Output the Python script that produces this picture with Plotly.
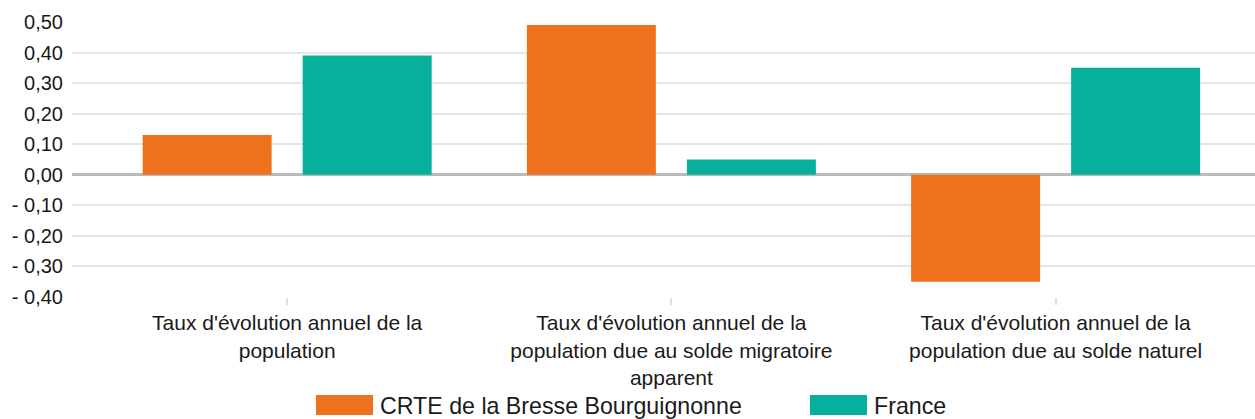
import plotly.graph_objects as go

categories = [
    "Taux d'évolution annuel de la<br>population",
    "Taux d'évolution annuel de la<br>population due au solde migratoire<br>apparent",
    "Taux d'évolution annuel de la<br>population due au solde naturel",
]
series_names = ["CRTE de la Bresse Bourguignonne", "France"]
crte_values = [0.13, 0.49, -0.35]
france_values = [0.39, 0.05, 0.35]
series_colors = ["#ee711d", "#06b09c"]

y_tickvals = [0.5, 0.4, 0.3, 0.2, 0.1, 0.0, -0.1, -0.2, -0.3, -0.4]
y_ticktext = ["0,50", "0,40", "0,30", "0,20", "0,10", "0,00", "- 0,10", "- 0,20", "- 0,30", "- 0,40"]

FONT = "Liberation Sans, Arial, sans-serif"

fig = go.Figure()
for name, vals, col in zip(series_names, [crte_values, france_values], series_colors):
    fig.add_trace(go.Bar(x=categories, y=vals, name=name, marker=dict(color=col, line=dict(width=0)),
                         showlegend=False))

fig.update_layout(
    width=1255, height=419,
    margin=dict(l=72, r=0, t=22, b=122),
    plot_bgcolor="white", paper_bgcolor="white",
    barmode="group", bargap=0.167, bargroupgap=0.194,
    font=dict(family=FONT, size=20, color="#1a1a1a"),
)
fig.update_xaxes(
    type="category", range=[-0.56, 2.519],
    showgrid=False, showline=False, zeroline=False,
    ticks="outside", ticklen=7, tickcolor="#e0e0e0", tickwidth=1.5,
    tickfont=dict(size=21),
)
fig.update_yaxes(
    range=[-0.4, 0.5], tickvals=y_tickvals, ticktext=y_ticktext,
    showgrid=True, gridcolor="#e6e6e6", gridwidth=2,
    zeroline=True, zerolinecolor="#bbbbbb", zerolinewidth=3,
    showline=False, ticks="", ticklabelstandoff=8,
    tickfont=dict(size=20),
)

# custom legend with wide swatches
legend_x = [316, 810]
for i, (name, col) in enumerate(zip(series_names, series_colors)):
    x0 = legend_x[i]
    fig.add_shape(type="rect", xref="paper", yref="paper",
                  x0=(x0 - 72) / 1183, x1=(x0 + 57 - 72) / 1183,
                  y0=(297 - 415) / 275, y1=(297 - 395) / 275,
                  fillcolor=col, line=dict(width=0))
    fig.add_annotation(xref="paper", yref="paper", x=(x0 + 62 - 72) / 1183, y=(297 - 405.5) / 275,
                       text=name, showarrow=False, xanchor="left", yanchor="middle",
                       font=dict(size=23.2, color="#1a1a1a"))

fig.write_html("out.html", config={"displayModeBar": False},
               post_script="document.body.style.margin='0';document.body.style.overflow='hidden';")
